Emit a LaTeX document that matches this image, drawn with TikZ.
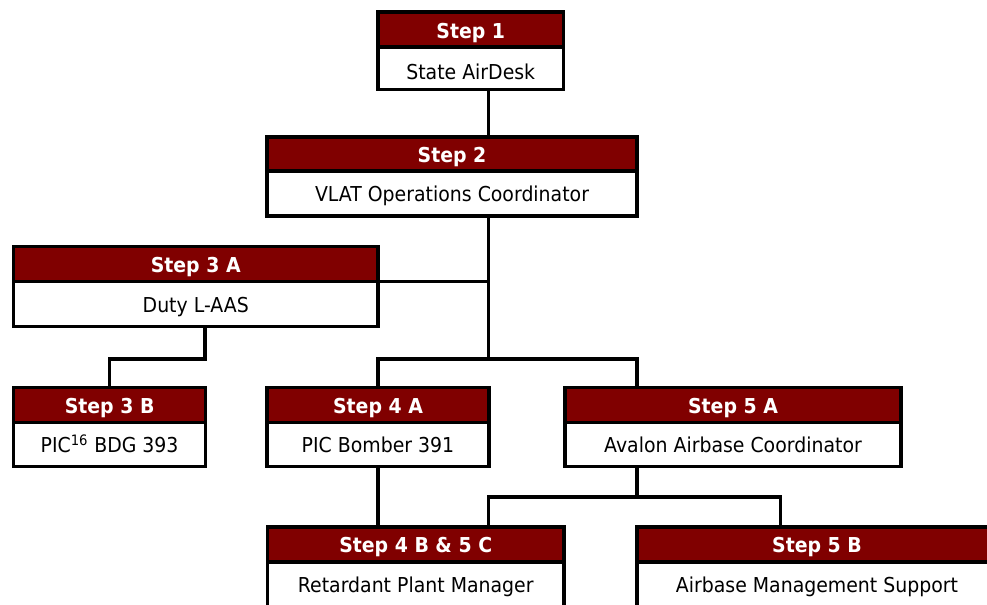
\documentclass[tikz,border=0pt]{standalone}
\usepackage{fontspec}
\setmainfont{DejaVu Sans}[FakeStretch=0.92]
\definecolor{stepred}{RGB}{128,0,0}

\begin{document}
\begin{tikzpicture}[x=0.75pt,y=0.75pt,yscale=-1,xscale=1,
  stephead/.style={draw, line width=2.6pt, fill=stepred, text=white, inner sep=0pt,
    font=\bfseries\fontsize{15.4}{18}\selectfont, text height=12pt, text depth=0pt,
    minimum height=35*0.75pt},
  stepbody/.style={draw, line width=2.6pt, fill=white, inner sep=0pt,
    font=\fontsize{15.4}{18}\selectfont, text height=12pt, text depth=0pt,
    minimum height=44*0.75pt},
  wire/.style={line width=2.6pt}]
\clip (0,0) rectangle (987,604);

%Step 1
\node[stephead, minimum width=185.5*0.75pt, text height=13.4pt] (s1h) at (470.75,29.5) {Step 1};
\node[stepbody, minimum width=185.5*0.75pt, minimum height=42.5*0.75pt, text height=17pt] (s1b) at (470.75,68.25) {State AirDesk};
%Step 2
\node[stephead, minimum width=370*0.75pt, minimum height=34*0.75pt] (s2h) at (452,154) {Step 2};
\node[stepbody, minimum width=370*0.75pt, minimum height=45*0.75pt] (s2b) at (452,193.5) {VLAT Operations Coordinator};
%Step 3 A
\node[stephead, minimum width=364.5*0.75pt] (s3ah) at (195.75,264.2) {Step 3 A};
\node[stepbody, minimum width=364.5*0.75pt, minimum height=45*0.75pt] (s3ab) at (195.75,304.2) {Duty L-AAS};
%Step 3 B
\node[stephead, minimum width=192.2*0.75pt] (s3bh) at (109.6,405) {Step 3 B};
\node[stepbody, minimum width=192.2*0.75pt] (s3bb) at (109.6,444.7) {PIC\textsuperscript{16} BDG 393};
%Step 4 A
\node[stephead, minimum width=222*0.75pt] (s4ah) at (378,405) {Step 4 A};
\node[stepbody, minimum width=222*0.75pt] (s4ab) at (378,444.7) {PIC Bomber 391};
%Step 5 A
\node[stephead, minimum width=336*0.75pt] (s5ah) at (733,405) {Step 5 A};
\node[stepbody, minimum width=336*0.75pt] (s5ab) at (733,444.7) {Avalon Airbase Coordinator};
%Step 4 B & 5 C
\node[stephead, minimum width=296.7*0.75pt] (s4bh) at (415.7,544.5) {Step 4 B \& 5 C};
\node[stepbody, minimum width=296.7*0.75pt] (s4bb) at (415.7,584.3) {Retardant Plant Manager};
%Step 5 B
\node[stephead, minimum width=359.7*0.75pt] (s5bh) at (817,544.5) {Step 5 B};
\node[stepbody, minimum width=359.7*0.75pt] (s5bb) at (817,584.3) {Airbase Management Support};

%connectors
\coordinate (trunk) at (488.7,359);
\coordinate (tee3) at (488.7,281.7);
\coordinate (drop3) at (205,359);
\coordinate (tee5) at (637,497);
\coordinate (drop5b) at (780.7,497);

\draw[wire] (s1b.south -| trunk) -- (s2h.north -| trunk);
\draw[wire] (s2b.south -| trunk) -- (trunk);
\draw[wire] (tee3 -| s3ab.east) -- (tee3);
\draw[wire] (s4ah.north) -- (s4ah.north |- trunk) -- (tee5 |- trunk) -- (tee5 |- s5ah.north);
\draw[wire] (drop3 |- s3ab.south) -- (drop3) -| (s3bh.north);
\draw[wire] (s4ab.south) -- (s4ab.south |- s4bh.north);
\draw[wire] (tee5 |- s5ab.south) -- (tee5);
\draw[wire] (trunk |- s4bh.north) |- (drop5b) -- (drop5b |- s5bh.north);

\end{tikzpicture}
\end{document}
